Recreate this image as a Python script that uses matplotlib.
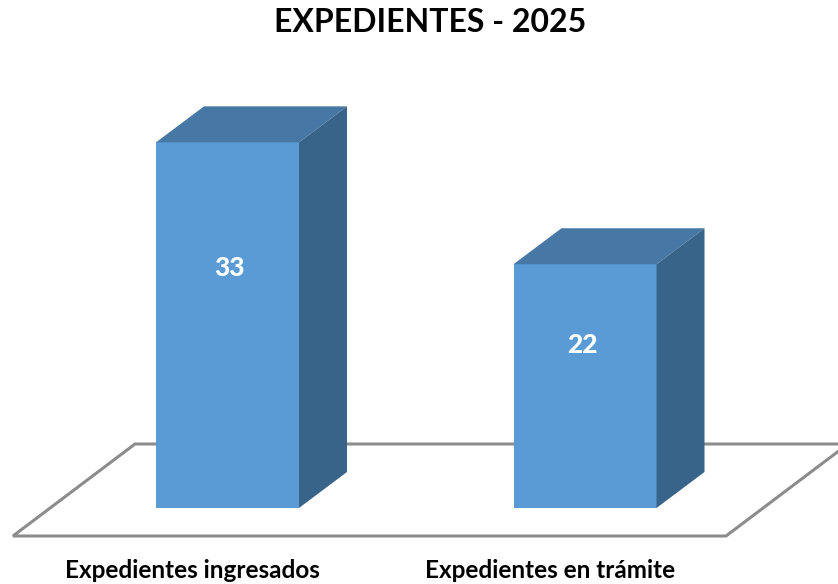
import matplotlib
matplotlib.use("Agg")
import matplotlib.pyplot as plt
from matplotlib.patches import Polygon
import numpy as np

# Data
categories = ["Expedientes ingresados", "Expedientes en trámite"]
values = [33, 22]
title = "EXPEDIENTES - 2025"

# Styling
front_color = "#5B9BD5"
top_color = "#4677A5"
side_color = "#386489"
floor_color = "#8C8C8C"
font = ["Lato", "DejaVu Sans"]

W, H = 838, 584
fig = plt.figure(figsize=(W / 100, H / 100), dpi=100)
ax = fig.add_axes([0, 0, 1, 1])

px_per_unit_y = 11.08
px_per_unit_x = 357.5
zero_px = 584 - 508
ax.set_ylim(-zero_px / px_per_unit_y, (H - zero_px) / px_per_unit_y)
x0_px = 227.5
ax.set_xlim(-x0_px / px_per_unit_x, (W - x0_px) / px_per_unit_x)
ax.axis("off")

bar_w = 0.40
ddx = 48 / px_per_unit_x
ddy = 36 / px_per_unit_y

# floor (in data units, below zero)
fl_front_y = -28 / px_per_unit_y
fl_back_y = 64 / px_per_unit_y
fl_left_x = (13 - x0_px) / px_per_unit_x
fl_right_x = (726 - x0_px) / px_per_unit_x
fl_dx = 122 / px_per_unit_x
floor = Polygon([(fl_left_x, fl_front_y), (fl_right_x, fl_front_y),
                 (fl_right_x + fl_dx, fl_back_y), (fl_left_x + fl_dx, fl_back_y)],
                closed=True, facecolor="white", edgecolor=floor_color, lw=2.2, zorder=1)
ax.add_patch(floor)

xs = np.arange(len(categories))
bars = ax.bar(xs, values, width=bar_w, color=front_color, zorder=3, linewidth=0)
label_offsets = [11.3, 7.3]
for x, v, off in zip(xs, values, label_offsets):
    l, r = x - bar_w / 2, x + bar_w / 2
    top = Polygon([(l, v), (r, v), (r + ddx, v + ddy), (l + ddx, v + ddy)],
                  closed=True, facecolor=top_color, edgecolor="none", zorder=3)
    side = Polygon([(r, 0), (r + ddx, ddy), (r + ddx, v + ddy), (r, v)],
                   closed=True, facecolor=side_color, edgecolor="none", zorder=3)
    ax.add_patch(top)
    ax.add_patch(side)
    ax.text(x + 0.005 - 0.012 * x, v - off, str(v), ha="center", va="center",
            color="white", fontsize=19, fontweight="black", family=font, zorder=4)

label_y = (584 - 571 - zero_px) / px_per_unit_y
for x, c in zip(xs, categories):
    ax.text(x - 35 / px_per_unit_x, label_y, c, ha="center", va="center",
            fontsize=17.5, fontweight="bold", family=font, color="black")

fig.text(0.513, 1 - 23 / H, title, ha="center", va="center",
         fontsize=23, fontweight="bold", family=font, color="black")

fig.savefig("out.png", dpi=100)
